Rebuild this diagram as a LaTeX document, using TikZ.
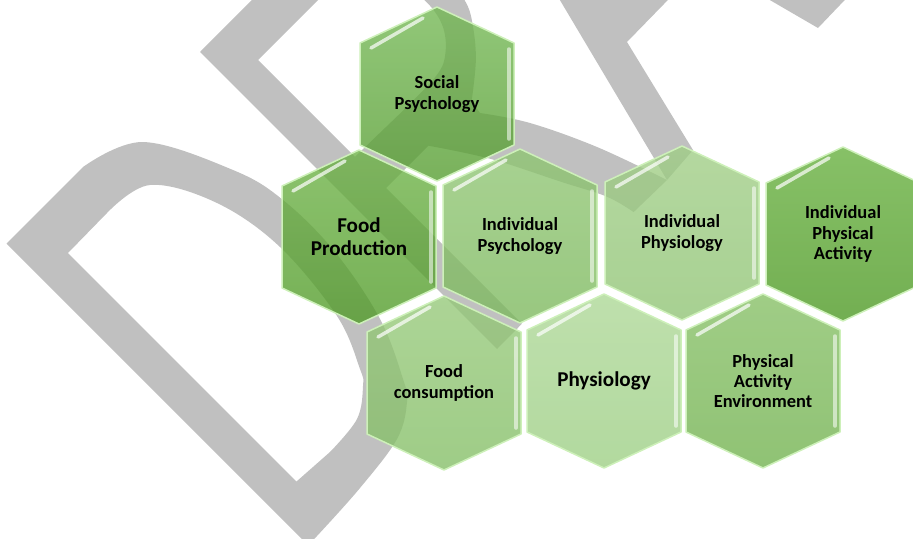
\documentclass[tikz,border=0pt]{standalone}
\usepackage{fontspec}
\setmainfont{Carlito}
\definecolor{wmark}{HTML}{C0C0C0}
\definecolor{hexedge}{RGB}{205,240,185}
\definecolor{socialtop}{RGB}{114,183,82}
\definecolor{socialbot}{RGB}{84,156,46}
\definecolor{prodtop}{RGB}{108,178,69}
\definecolor{prodbot}{RGB}{79,154,38}
\definecolor{ipsytop}{RGB}{143,197,114}
\definecolor{ipsybot}{RGB}{123,184,92}
\definecolor{iphytop}{RGB}{159,205,133}
\definecolor{iphybot}{RGB}{143,195,115}
\definecolor{iacttop}{RGB}{101,175,60}
\definecolor{iactbot}{RGB}{75,152,33}
\definecolor{constop}{RGB}{149,200,120}
\definecolor{consbot}{RGB}{131,190,101}
\definecolor{phytop}{RGB}{172,215,149}
\definecolor{phybot}{RGB}{156,206,131}
\definecolor{envtop}{RGB}{133,191,100}
\definecolor{envbot}{RGB}{112,177,77}

\tikzset{
  hexcell/.style={fill opacity=0.78, draw=hexedge, line width=0.3mm, line join=round},
  glint/.style={draw=white, draw opacity=0.7, line width=0.7mm, line cap=round},
  smalltxt/.style={font=\bfseries\fontsize{10.5}{11.5}\selectfont, align=center},
  bigtxt/.style={font=\bfseries\fontsize{12}{13}\selectfont, align=center}
}

\begin{document}
\begin{tikzpicture}[x=0.2mm, y=-0.2mm]
\useasboundingbox (0,0) rectangle (913,539);
\clip (0,0) rectangle (913,539);
% watermark letters
\fill[wmark, even odd rule]
  (308,545) -- (6.5,243.5) -- plot[smooth, tension=0.6] coordinates {(83,167) (143,142) (233,170) (283,200) (335,252) (380,319) (403,379) (407,402) (397,439) (360,488) (317,536)} -- cycle
  (296.5,481.5) -- (68,253) -- plot[smooth, tension=0.6] coordinates {(107,213) (150,185) (217,203) (280,247) (337,316) (360,369) (363,386) (357,419) (330,452)} -- cycle;
\fill[wmark, even odd rule]
  (497,349) -- (200,52) -- plot[smooth, tension=0.6] coordinates {(288.5,-36.8) (350,-67.2) (406.6,-53) (446.9,-22.6) (465.3,1.4) (472.3,22.6) (475.9,58.7) (471.6,101.1)}
  -- plot[smooth, tension=0.6] coordinates {(480,113) (530,123) (597,147) (667,180)}
  -- plot[smooth, tension=0.6] coordinates {(633.6,212.1) (606.7,196.6) (560.7,181.7) (491.4,159.1) (428.5,145.7)}
  -- (386.1,188.1) -- (521.9,323.8) -- cycle
  (258.1,60.1) -- plot[smooth, tension=0.6] coordinates {(318.2,0) (349.3,-21.2) (391.8,-21.2) (424.3,0) (442.1,24.7) (445.5,52.3) (436.3,75.7) (398.1,115.4)} -- (354.9,156.9) -- cycle;
\fill[wmark] (667,180) -- (693,150) -- (627,42) -- (704.7,-37.8) -- (818,28) -- (846.1,-1.4) -- (733,-67) -- (445,-193) -- cycle;
% hexagons
\foreach \n/\cx/\cy/\col/\sz/\txt in {
  social/437/94/social/smalltxt/{Social\\Psychology},
  foodprod/359/237/prod/bigtxt/{Food\\Production},
  indpsych/520/236/ipsy/smalltxt/{Individual\\Psychology},
  indphysio/682/233/iphy/smalltxt/{Individual\\Physiology},
  indactivity/843/234/iact/smalltxt/{Individual\\Physical\\Activity},
  foodcons/444/383/cons/smalltxt/{Food\\consumption},
  physio/604/381/phy/bigtxt/{Physiology},
  actenv/763/381/env/smalltxt/{Physical\\Activity\\Environment}}{
  \path[hexcell, top color=\col top, bottom color=\col bot]
    (\cx,\cy-87) -- (\cx+77,\cy-51) -- (\cx+77,\cy+51) -- (\cx,\cy+87) -- (\cx-77,\cy+51) -- (\cx-77,\cy-51) -- cycle;
  \draw[glint] (\cx-66,\cy-46) -- (\cx-14,\cy-76);
  \draw[glint, draw opacity=0.55] (\cx+72,\cy-45) -- (\cx+72,\cy+45);
  \node[\sz] (\n) at (\cx,\cy) {\txt};
}
\end{tikzpicture}
\end{document}
